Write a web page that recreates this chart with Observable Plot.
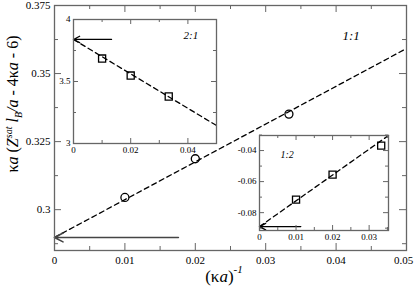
<!DOCTYPE html>
<html><head><meta charset="utf-8">
<script src="https://cdn.jsdelivr.net/npm/d3@7"></script>
<script src="https://cdn.jsdelivr.net/npm/@observablehq/plot@0.6"></script>
<style>
body{margin:0;background:#fff}
#wrap{position:relative;width:415px;height:288px;font-family:"Liberation Serif","Times New Roman","DejaVu Serif",serif}
#wrap svg{position:absolute;overflow:visible}
</style>
</head><body><div id="wrap"></div>
<script>
// ---------- main panel (1:1) ----------
const mainX = [0.01, 0.02, 0.0333];
const mainY = [0.3045, 0.3187, 0.3351];
const mainFitX = [0, 0.05];
const mainFitY = [0.2898, 0.3592];
const mainArrowFrom = 0.0176, mainArrowTo = 0, mainArrowLevel = 0.2898;
const mainXTicks = [0, 0.01, 0.02, 0.03, 0.04];
const mainXLast = [0.05];
const mainXMinor = [0.005, 0.015, 0.025, 0.035, 0.045];
const mainYTicks = [0.3, 0.325, 0.35, 0.375];
const mainYMinor = [0.2875, 0.3125, 0.3375, 0.3625];
const mainLabel = "1:1";

// ---------- inset 2:1 ----------
const in1X = [0.01, 0.02, 0.0333];
const in1Y = [3.685, 3.548, 3.379];
const in1FitX = [0, 0.05];
const in1FitY = [3.839, 3.145];
const in1ArrowFrom = 0.0133, in1ArrowTo = 0, in1ArrowLevel = 3.839;
const in1XTicks = [0, 0.02, 0.04];
const in1XMinor = [0.01, 0.03, 0.05];
const in1YTicks = [3, 3.5, 4];
const in1YMinor = [3.25, 3.75];
const in1Label = "2:1";

// ---------- inset 1:2 ----------
const in2X = [0.01, 0.02, 0.0333];
const in2Y = [-0.0716, -0.0555, -0.0368];
const in2FitX = [0, 0.0353];
const in2FitY = [-0.089, -0.0303];
const in2ArrowFrom = 0.0113, in2ArrowTo = 0, in2ArrowLevel = -0.089;
const in2XTicks = [0, 0.01, 0.02, 0.03];
const in2XMinor = [0.005, 0.015, 0.025, 0.035];
const in2YTicks = [-0.08, -0.06, -0.04];
const in2YMinor = [-0.09, -0.07, -0.05, -0.03];
const in2Label = "1:2";

const FONT = '"Liberation Serif","Times New Roman","DejaVu Serif",serif';
const wrap = document.getElementById("wrap");

function boxTicks(xMaj, xMin, yMaj, yMin, pw, ph, maj, min, color) {
  const o = {stroke: color, strokeWidth: 1};
  return [
    Plot.ruleX(xMaj, {x: d => d, insetTop: ph - maj, ...o}),
    Plot.ruleX(xMaj, {x: d => d, insetBottom: ph - maj, ...o}),
    Plot.ruleX(xMin, {x: d => d, insetTop: ph - min, ...o}),
    Plot.ruleX(xMin, {x: d => d, insetBottom: ph - min, ...o}),
    Plot.ruleY(yMaj, {y: d => d, insetRight: pw - maj, ...o}),
    Plot.ruleY(yMaj, {y: d => d, insetLeft: pw - maj, ...o}),
    Plot.ruleY(yMin, {y: d => d, insetRight: pw - min, ...o}),
    Plot.ruleY(yMin, {y: d => d, insetLeft: pw - min, ...o})
  ];
}

function panel(cfg) {
  const pw = cfg.width - cfg.ml - cfg.mr, ph = cfg.height - cfg.mt - cfg.mb;
  const pts = cfg.xs.map((x, i) => ({x, y: cfg.ys[i]}));
  const fit = cfg.fitX.map((x, i) => ({x, y: cfg.fitY[i]}));
  const arrow = [{x1: cfg.arrow[0], x2: cfg.arrow[1], y: cfg.arrow[2]}];
  const extra = cfg.xLast ? [Plot.axisX(cfg.xLast, {tickSize: 0, tickPadding: cfg.xpad, tickFormat: d => String(d), label: null, fontSize: cfg.fs, dx: -3, fontFamily: FONT})] : [];
  const svg = Plot.plot({
    width: cfg.width, height: cfg.height,
    marginLeft: cfg.ml, marginRight: cfg.mr, marginTop: cfg.mt, marginBottom: cfg.mb,
    x: {domain: cfg.xDomain}, y: {domain: cfg.yDomain},
    style: {fontFamily: FONT, fontSize: cfg.fs + "px", background: "transparent", color: "#000", overflow: "visible"},
    marks: [
      Plot.frame({fill: "white", stroke: null}),
      Plot.line(fit, {x: "x", y: "y", stroke: "#000", strokeWidth: 1.3, strokeDasharray: "5,3.5"}),
      Plot.dot(pts, {x: "x", y: "y", symbol: cfg.symbol, r: cfg.r, stroke: "#000", strokeWidth: 1.3, fill: "none"}),
      Plot.arrow(arrow, {x1: "x1", x2: "x2", y1: "y", y2: "y", stroke: cfg.arrowColor, strokeWidth: cfg.arrowWidth, headLength: cfg.headLength, headAngle: 55}),
      ...boxTicks(cfg.xTicks.concat(cfg.xLast || []), cfg.xMinor, cfg.yTicks, cfg.yMinor, pw, ph, cfg.maj, cfg.min, cfg.frameColor),
      Plot.frame({stroke: cfg.frameColor, strokeWidth: cfg.frameWidth}),
      Plot.axisX(cfg.xTicks, {tickSize: 0, tickPadding: cfg.xpad, tickFormat: d => String(d), label: null, fontSize: cfg.fs, fontFamily: FONT}),
      ...extra,
      Plot.axisY(cfg.yTicks, {tickSize: 0, tickPadding: cfg.ypad, tickFormat: d => String(d), label: null, fontSize: cfg.fs, fontFamily: FONT}),
      Plot.text([cfg.label], {frameAnchor: "top-left", text: d => d, dx: cfg.ldx, dy: cfg.ldy, fontStyle: "italic", fontSize: cfg.lfs, fontFamily: FONT, textAnchor: "start", lineAnchor: "middle", fill: "#000"})
    ]
  });
  svg.style.left = cfg.left + "px";
  svg.style.top = cfg.top + "px";
  return svg;
}

const main = panel({
  width: 415, height: 288, ml: 54, mr: 9, mt: 5, mb: 38, left: 0, top: 0,
  xs: mainX, ys: mainY, fitX: mainFitX, fitY: mainFitY,
  arrow: [mainArrowFrom, mainArrowTo, mainArrowLevel],
  xDomain: [0, 0.05], yDomain: [0.285, 0.375],
  xTicks: mainXTicks, xLast: mainXLast, xMinor: mainXMinor, yTicks: mainYTicks, yMinor: mainYMinor,
  symbol: "circle", r: 4, fs: 11, maj: 7, min: 4, xpad: 6, ypad: 4,
  frameColor: "#666", frameWidth: 1.3, arrowColor: "#444", arrowWidth: 1.6, headLength: 9,
  label: mainLabel, ldx: 288, ldy: 30, lfs: 13
});
wrap.appendChild(main);

// axis titles with super/subscripts
const s = d3.select(main);
const yt = s.append("text")
  .attr("transform", "translate(18,104) rotate(-90)")
  .attr("text-anchor", "middle")
  .attr("font-family", FONT).attr("font-size", 16).attr("fill", "#000");
yt.append("tspan").text("κ");
yt.append("tspan").attr("font-style", "italic").text("a");
yt.append("tspan").text(" (");
yt.append("tspan").attr("font-style", "italic").text("Z");
yt.append("tspan").attr("font-style", "italic").attr("font-size", 10).attr("dy", "-6").text("sat");
yt.append("tspan").attr("font-style", "italic").attr("dy", "6").text(" l");
yt.append("tspan").attr("font-style", "italic").attr("font-size", 10).attr("dy", "4").text("B");
yt.append("tspan").attr("font-style", "italic").attr("dy", "-4").text("/a");
yt.append("tspan").text(" - 4κ");
yt.append("tspan").attr("font-style", "italic").text("a");
yt.append("tspan").text(" - 6)");

const xt = s.append("text")
  .attr("x", 224).attr("y", 282)
  .attr("text-anchor", "middle")
  .attr("font-family", FONT).attr("font-size", 17).attr("fill", "#000");
xt.append("tspan").text("(κ");
xt.append("tspan").attr("font-style", "italic").text("a");
xt.append("tspan").text(")");
xt.append("tspan").attr("font-style", "italic").attr("font-size", 11).attr("dy", "-9").text("-1");

wrap.appendChild(panel({
  width: 165, height: 140, ml: 20, mr: 2, mt: 2, mb: 14, left: 53, top: 17,
  xs: in1X, ys: in1Y, fitX: in1FitX, fitY: in1FitY,
  arrow: [in1ArrowFrom, in1ArrowTo, in1ArrowLevel],
  xDomain: [0, 0.05], yDomain: [3, 4],
  xTicks: in1XTicks, xMinor: in1XMinor, yTicks: in1YTicks, yMinor: in1YMinor,
  symbol: "square", r: 4, fs: 9, maj: 5, min: 3, xpad: 3, ypad: 3,
  frameColor: "#666", frameWidth: 1.3, arrowColor: "#000", arrowWidth: 1.3, headLength: 8,
  label: in1Label, ldx: 110, ldy: 15.5, lfs: 11
}));

wrap.appendChild(panel({
  width: 161, height: 111, ml: 30, mr: 2, mt: 2, mb: 14, left: 229, top: 133,
  xs: in2X, ys: in2Y, fitX: in2FitX, fitY: in2FitY,
  arrow: [in2ArrowFrom, in2ArrowTo, in2ArrowLevel],
  xDomain: [0, 0.0353], yDomain: [-0.0915, -0.0303],
  xTicks: in2XTicks, xMinor: in2XMinor, yTicks: in2YTicks, yMinor: in2YMinor,
  symbol: "square", r: 4, fs: 9, maj: 5, min: 3, xpad: 3, ypad: 3,
  frameColor: "#666", frameWidth: 1.3, arrowColor: "#000", arrowWidth: 1.3, headLength: 8,
  label: in2Label, ldx: 21, ldy: 19, lfs: 10
}));
</script>
</body></html>
